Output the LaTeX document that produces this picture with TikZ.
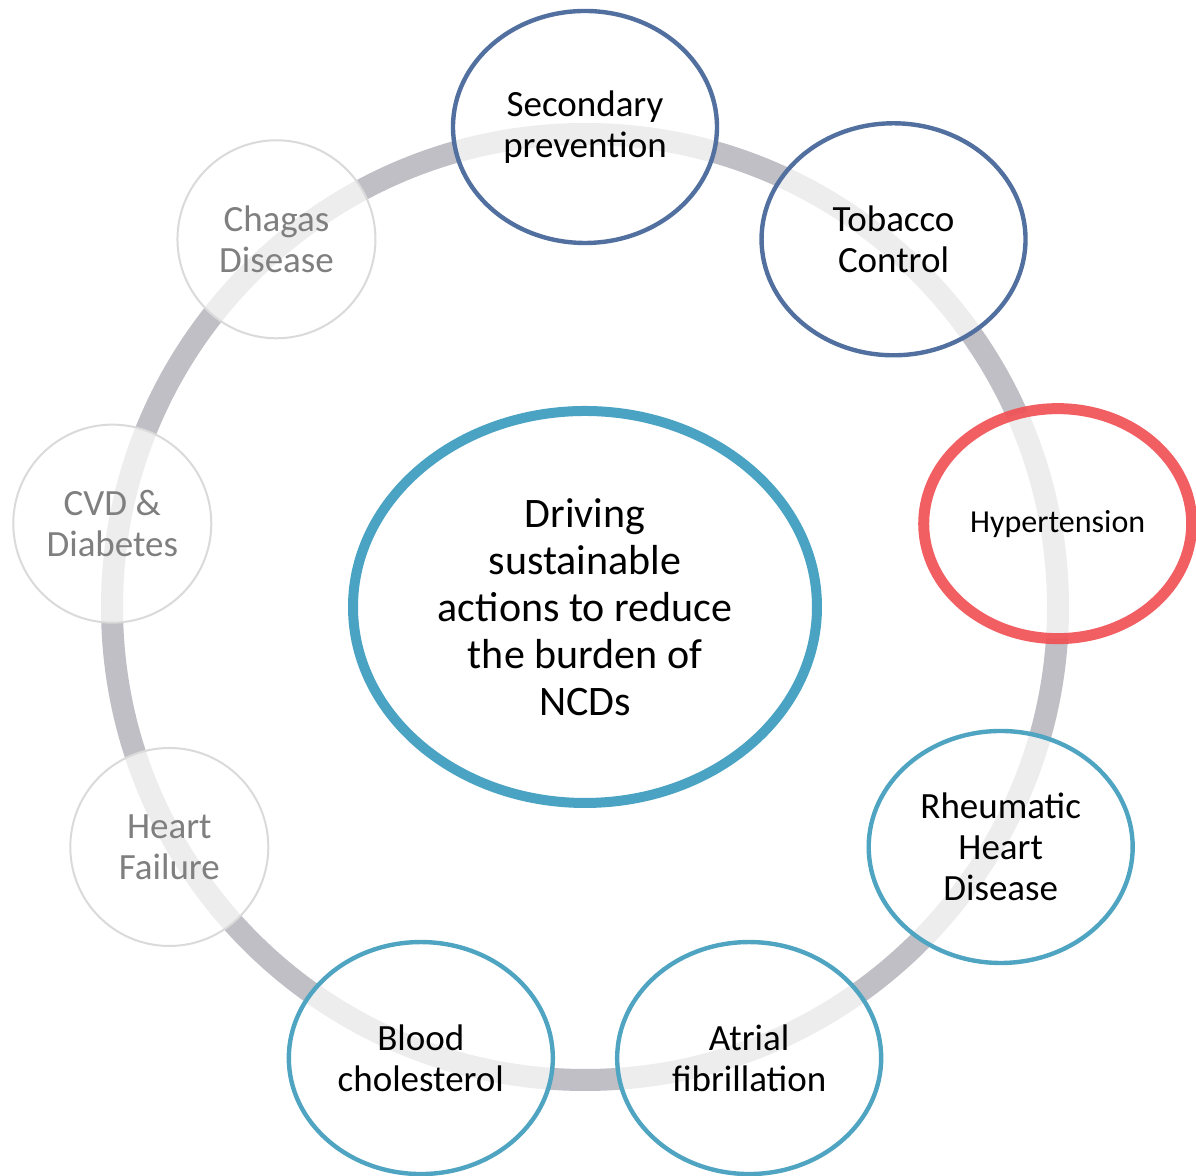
\documentclass[tikz,border=0pt]{standalone}
\usepackage{fontspec}
\setmainfont{Carlito}
\usepackage{xcolor}
\usetikzlibrary{shapes.geometric}
\definecolor{ringgray}{HTML}{BFBFC5}
\definecolor{navyedge}{HTML}{52709F}
\definecolor{tealedge}{HTML}{4FA4C2}
\definecolor{hubedge}{HTML}{4AA3C3}
\definecolor{rededge}{HTML}{F04E52}
\definecolor{fadeedge}{HTML}{DADADA}
\definecolor{fadetext}{HTML}{7F7F7F}
\tikzset{
  bubble/.style={ellipse, align=center, fill=white, fill opacity=0.72, text opacity=1, inner sep=0pt, font=\fontsize{18.5}{20.5}\selectfont},
  prevent/.style={bubble, draw=navyedge, line width=2.2pt, minimum width=132pt, minimum height=116pt},
  disease/.style={bubble, draw=tealedge, line width=2.2pt, minimum width=132pt, minimum height=116pt},
  focus/.style={bubble, draw=rededge, draw opacity=0.9, line width=5.5pt, minimum width=134pt, minimum height=115pt, font=\fontsize{16}{19}\selectfont},
  faded/.style={bubble, draw=fadeedge, line width=1pt, minimum size=99pt, text=fadetext},
  hubnode/.style={bubble, fill opacity=1, draw=hubedge, line width=5pt, minimum width=232pt, minimum height=196pt, font=\fontsize{21}{23.5}\selectfont},
  ring/.style={draw=ringgray, line width=11pt}
}

\begin{document}
\begin{tikzpicture}[x=0.5pt, y=0.5pt]
  \useasboundingbox (0,0) rectangle (1196,1176);
  % Centre and ring
  \node[hubnode] (hub) at (585,569) {Driving\\ sustainable\\ actions to reduce\\ the burden of\\ NCDs};
  \draw[ring] (hub.center) circle[radius=473];

  % Nodes
  \node[prevent] (second) at ([shift={(90:480)}]hub.center) {Secondary\\ prevention};
  \node[prevent] (tobacco) at ([shift={(50:480)}]hub.center) {Tobacco\\ Control};
  \node[focus] (hyper) at ([shift={(10:480)}]hub.center) {Hypertension};
  \node[disease] (rheum) at ([shift={(-30:480)}]hub.center) {Rheumatic\\ Heart\\ Disease};
  \node[disease] (atrial) at ([shift={(-70:480)}]hub.center) {Atrial\\ fibrillation};
  \node[disease] (chol) at ([shift={(-110:480)}]hub.center) {Blood\\ cholesterol};
  \node[faded] (failure) at ([shift={(-150:480)}]hub.center) {Heart\\ Failure};
  \node[faded] (diab) at ([shift={(170:480)}]hub.center) {CVD \&\\ Diabetes};
  \node[faded] (chagas) at ([shift={(130:480)}]hub.center) {Chagas\\ Disease};
\end{tikzpicture}
\end{document}
